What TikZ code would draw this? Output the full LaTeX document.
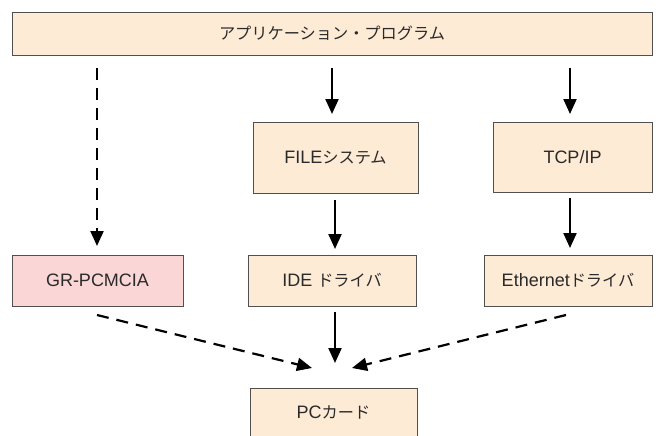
\documentclass[tikz,border=0pt]{standalone}
\usepackage{fontspec}
\setmainfont{Liberation Sans}
\newfontfamily\jp[Scale=0.9]{Noto Sans CJK JP}
\usetikzlibrary{arrows.meta}
\definecolor{peach}{HTML}{FDEBD6}
\definecolor{pinkf}{HTML}{FAD6D6}
\definecolor{edge}{HTML}{505050}
\definecolor{txt}{HTML}{2A2A2A}
\tikzset{
  box/.style={draw=edge, line width=0.9pt, fill=peach, inner sep=0pt, text=txt, font=\fontsize{18}{21}\selectfont},
  arr/.style={line width=2.2pt, -{Triangle[width=13pt,length=15pt]}},
  darr/.style={arr, dash pattern=on 12pt off 8pt},
}
\begin{document}
\begin{tikzpicture}[x=1pt,y=-1pt]
\useasboundingbox (0,0) rectangle (664,436);
\fill[white] (0,0) rectangle (664,436);
\node[box, minimum width=640pt, minimum height=43pt] (app) at (332,33.5) {\jp アプリケーション・プログラム};
\node[box, minimum width=165pt, minimum height=71pt] (file) at (335.5,158) {FILE{\jp システム}};
\node[box, minimum width=159pt, minimum height=70pt] (tcp) at (572.5,157) {TCP/IP};
\node[box, fill=pinkf, minimum width=171pt, minimum height=51pt] (gr) at (97.5,280.5) {GR-PCMCIA};
\node[box, minimum width=168pt, minimum height=51pt] (ide) at (332,280.5) {IDE {\jp ドライバ}};
\node[box, minimum width=168pt, minimum height=51pt] (eth) at (568,280.5) {Ethernet{\jp ドライバ}};
\node[box, minimum width=167pt, minimum height=60pt] (pc) at (333.5,418) {};
\node[text=txt, font=\fontsize{18}{21}\selectfont] (pct) at (333.5,412) {PC{\jp カード}};
\coordinate (a1) at (97,68);
\coordinate (a2) at (332,68);
\coordinate (a3) at (570,68);
\draw[darr] (a1) -- (97,246);
\draw[arr] (a2) -- (332,114);
\draw[arr] (a3) -- (570,114);
\draw[arr] (335,200) -- (335,249);
\draw[arr] (570,198) -- (570,248);
\coordinate (g1) at (97,315);
\coordinate (g2) at (312,368);
\coordinate (e1) at (566,315);
\coordinate (e2) at (352,368);
\draw[darr] (g1) -- (g2);
\draw[arr] (335,312) -- (335,363);
\draw[darr] (e1) -- (e2);
\end{tikzpicture}
\end{document}
